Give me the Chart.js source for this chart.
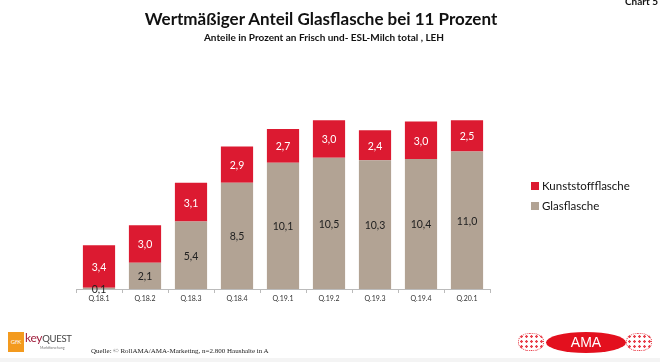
<!DOCTYPE html>
<html>
<head>
<meta charset="utf-8">
<script src="https://cdn.jsdelivr.net/npm/chart.js@4"></script>
<style>
  body { margin: 0; background: #fff; font-family: Lato, "Open Sans", sans-serif; }
  #wrap { position: relative; width: 660px; height: 362px; overflow: hidden; }
  #myChart { position: absolute; left: 0; top: 0; }
  .title { position: absolute; left: 0; width: 642px; text-align: center; top: 8px; font-size: 17px; font-weight: bold; color: #111; }
  .sub { position: absolute; left: 0; width: 648px; text-align: center; top: 31px; font-size: 10px; font-weight: bold; color: #111; }
  .chartno { position: absolute; right: 2px; top: -5px; font-size: 10px; font-weight: bold; color: #111; }
  .legend { position: absolute; left: 531px; top: 178px; font-size: 11.5px; color: #111; }
  .legend div { height: 20px; line-height: 16px; }
  .legend span { display: inline-block; width: 8px; height: 8px; margin-right: 3px; vertical-align: 0px; }
  .src { position: absolute; left: 91px; top: 347px; font-family: "Liberation Serif", serif; font-size: 7px; color: #222; }
  .gfk { position: absolute; left: 8px; top: 332px; width: 16px; height: 20px; background: #f39a1e; color: #fff; font-size: 6px; line-height: 20px; text-align: center; }
  .key { position: absolute; left: 25px; top: 330px; font-size: 12px; color: #a01e3c; letter-spacing: -0.3px; }
  .key b { font-weight: normal; color: #444; font-size: 9.5px; }
  .mf { position: absolute; left: 40px; top: 346px; font-size: 3.5px; color: #777; }
  .ama { position: absolute; left: 546px; top: 332px; width: 80px; height: 21px; border-radius: 50%; background: #e3101e; color: #fff; font-size: 14px; line-height: 21px; text-align: center; font-family: "Liberation Sans", sans-serif; }
  .orn { position: absolute; top: 333px; width: 26px; height: 18px; border: 1px dotted #e3101e; border-radius: 45%; box-sizing: border-box;
         background: radial-gradient(circle, #e3101e 1px, transparent 1.5px) 0 0 / 5px 5px; opacity: 0.8; }
  .band { position: absolute; left: 0; top: 358px; width: 660px; height: 4px; background: #f4f4f4; }
</style>
</head>
<body>
<div id="wrap">
  <canvas id="myChart" width="660" height="362"></canvas>
  <div class="chartno">Chart 5</div>
  <div class="title">Wertmäßiger Anteil Glasflasche bei 11 Prozent</div>
  <div class="sub">Anteile in Prozent an Frisch und- ESL-Milch total , LEH</div>
  <div class="legend">
    <div><span style="background:#dc1a31"></span>Kunststoffflasche</div>
    <div><span style="background:#b2a394"></span>Glasflasche</div>
  </div>
  <div class="gfk">GfK</div>
  <div class="key">key<b>QUEST</b></div>
  <div class="mf">Marktforschung</div>
  <div class="src">Quelle: © RollAMA/AMA-Marketing, n=2.800 Haushalte in A</div>
  <div class="orn" style="left:518px"></div>
  <div class="orn" style="left:626px"></div>
  <div class="ama">AMA</div>
  <div class="band"></div>
</div>
<script>
  const labels = ['Q.18.1', 'Q.18.2', 'Q.18.3', 'Q.18.4', 'Q.19.1', 'Q.19.2', 'Q.19.3', 'Q.19.4', 'Q.20.1'];
  const glas = [0.1, 2.1, 5.4, 8.5, 10.1, 10.5, 10.3, 10.4, 11.0];
  const kunststoff = [3.4, 3.0, 3.1, 2.9, 2.7, 3.0, 2.4, 3.0, 2.5];

  // values inside the bar segments
  const barLabels = {
    id: 'barLabels',
    afterDatasetsDraw(chart) {
      const ctx = chart.ctx;
      ctx.save();
      ctx.font = '10.5px Lato, "Open Sans", sans-serif';
      ctx.textAlign = 'center';
      ctx.textBaseline = 'middle';
      chart.data.datasets.forEach((ds, i) => {
        const meta = chart.getDatasetMeta(i);
        ctx.fillStyle = ds.labelColor;
        meta.data.forEach((bar, j) => {
          const txt = ds.data[j].toFixed(1).replace('.', ',');
          ctx.fillText(txt, bar.x, (bar.y + bar.base) / 2 + 1);
        });
      });
      ctx.restore();
    }
  };

  const data = {
    labels: labels,
    datasets: [{
      label: 'Glasflasche',
      data: glas,
      backgroundColor: '#b2a394',
      labelColor: '#222',
      barPercentage: 0.7,
      categoryPercentage: 1
    }, {
      label: 'Kunststoffflasche',
      data: kunststoff,
      backgroundColor: '#dc1a31',
      labelColor: '#fff',
      barPercentage: 0.7,
      categoryPercentage: 1
    }]
  };

  const config = {
    type: 'bar',
    data,
    options: {
      responsive: false,
      animation: false,
      layout: { padding: { left: 76, right: 170, top: 114, bottom: 53 } },
      plugins: { legend: { display: false }, tooltip: { enabled: false } },
      scales: {
        x: {
          stacked: true,
          afterFit: s => { s.height = 20; },
          border: { color: '#bbb' },
          grid: { offset: true, drawOnChartArea: false, tickLength: 4, color: '#bbb' },
          ticks: { color: '#333', font: { size: 7, family: 'Lato' }, padding: 2 }
        },
        y: { stacked: true, display: false, min: 0, max: 14 }
      }
    },
    plugins: [barLabels]
  };

  var myChart = new Chart(document.getElementById('myChart'), config);
</script>
</body>
</html>
